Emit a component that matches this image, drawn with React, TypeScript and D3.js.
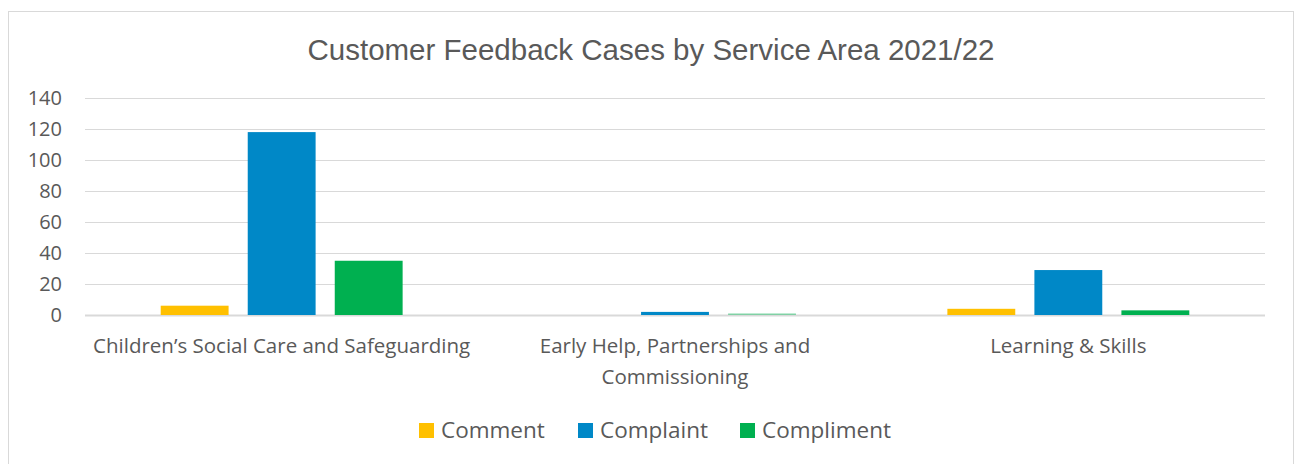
import React, { useEffect, useRef } from "react";
import * as d3 from "d3";

const categories = [
  ["Children\u2019s Social Care and Safeguarding"],
  ["Early Help, Partnerships and", "Commissioning"],
  ["Learning & Skills"],
];
const seriesNames = ["Comment", "Complaint", "Compliment"];
const comment = [6, 0, 4];
const complaint = [118, 2, 29];
const compliment = [35, 1, 3];
const yTicks = [0, 20, 40, 60, 80, 100, 120, 140];
const colors = ["#FFC000", "#0088C7", "#00B050"];

const W = 1295;
const H = 464;

const App = () => {
  const ref = useRef<SVGSVGElement>(null);

  useEffect(() => {
    const root = d3.select(ref.current);
    root.selectAll("*").remove();
    const svg = root.append("g").attr("transform", "translate(8,8)");
    const font = "'Open Sans', sans-serif";
    const values = [comment, complaint, compliment];

    // chart frame
    svg
      .append("rect")
      .attr("x", 0.5)
      .attr("y", 3.5)
      .attr("width", 1285)
      .attr("height", H)
      .attr("fill", "white")
      .attr("stroke", "#d9d9d9");

    svg
      .append("text")
      .attr("x", 643)
      .attr("y", 52)
      .attr("text-anchor", "middle")
      .attr("font-family", "'Liberation Sans', Arial, sans-serif")
      .attr("font-size", 29.5)
      .attr("fill", "#595959")
      .text("Customer Feedback Cases by Service Area 2021/22");

    const x0 = d3
      .scaleBand<number>()
      .domain(d3.range(categories.length))
      .range([77, 1257]);
    const x1 = d3
      .scaleBand<number>()
      .domain(d3.range(seriesNames.length))
      .range([0, x0.bandwidth()])
      .paddingInner(0.22)
      .paddingOuter(0.87);
    const y = d3.scaleLinear().domain([0, 140]).range([307, 90]);

    const grid = svg.append("g");
    grid
      .selectAll("line")
      .data(yTicks)
      .join("line")
      .attr("x1", 77)
      .attr("x2", 1257)
      .attr("y1", (d) => Math.round(y(d)) + 0.5)
      .attr("y2", (d) => Math.round(y(d)) + 0.5)
      .attr("stroke", "#d9d9d9")
      .attr("stroke-width", (d) => (d === 0 ? 2 : 1));

    grid
      .selectAll("text")
      .data(yTicks)
      .join("text")
      .attr("x", 54)
      .attr("y", (d) => y(d) + 7)
      .attr("text-anchor", "end")
      .attr("font-family", font)
      .attr("font-size", 20)
      .attr("fill", "#595959")
      .text((d) => d);

    const groups = svg
      .append("g")
      .selectAll("g")
      .data(seriesNames)
      .join("g")
      .attr("fill", (d, i) => colors[i]);

    groups
      .selectAll("rect")
      .data((d, i) => values[i].map((v, c) => ({ v, c, s: i })))
      .join("rect")
      .attr("x", (d) => x0(d.c)! + x1(d.s)!)
      .attr("width", x1.bandwidth())
      .attr("y", (d) => y(d.v))
      .attr("height", (d) => y(0) - y(d.v))
      .attr("opacity", (d) => (d.v > 0 && d.v < 2 ? 0.45 : 1));

    const xl = svg.append("g");
    categories.forEach((lines, c) => {
      const t = xl
        .append("text")
        .attr("x", x0(c)! + x0.bandwidth() / 2)
        .attr("y", 345)
        .attr("text-anchor", "middle")
        .attr("font-family", font)
        .attr("font-size", 20.5)
        .attr("fill", "#595959");
      lines.forEach((line, k) => {
        t.append("tspan")
          .attr("x", x0(c)! + x0.bandwidth() / 2)
          .attr("dy", k === 0 ? 0 : 31)
          .text(line);
      });
    });

    const legendX = [411, 570, 732];
    const legend = svg
      .append("g")
      .selectAll("g")
      .data(seriesNames)
      .join("g")
      .attr("transform", (d, i) => `translate(${legendX[i]},415)`);
    legend
      .append("rect")
      .attr("width", 15)
      .attr("height", 15)
      .attr("fill", (d, i) => colors[i]);
    legend
      .append("text")
      .attr("x", 22)
      .attr("y", 15)
      .attr("font-family", font)
      .attr("font-size", 22.5)
      .attr("fill", "#595959")
      .text((d) => d);
  }, []);

  return (
    <svg
      ref={ref}
      width={W}
      height={H}
      style={{ position: "fixed", left: 0, top: 0, display: "block" }}
    ></svg>
  );
};

export default App;
